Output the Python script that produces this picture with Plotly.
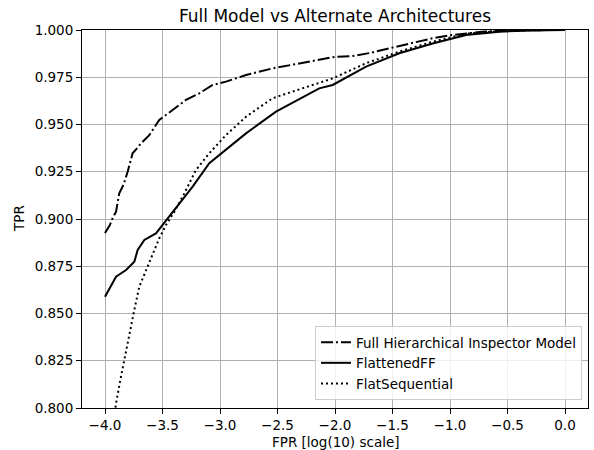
import plotly.graph_objects as go

# Full Hierarchical Inspector Model
full_x = [-4.0, -3.96, -3.934, -3.904, -3.876, -3.84, -3.803, -3.76, -3.72, -3.687, -3.615, -3.528,
          -3.412, -3.296, -3.18, -3.064, -2.948, -2.774, -2.543, -2.31, -2.137, -2.0, -1.85,
          -1.7, -1.528, -1.35, -1.154, -1.0, -0.861, -0.7, -0.5, -0.3, 0.0]
full_y = [0.8926, 0.8965, 0.9004, 0.9039, 0.9136, 0.918, 0.925, 0.9348, 0.9375, 0.940, 0.9444, 0.9524,
          0.9577, 0.963, 0.9665, 0.9709, 0.9727, 0.9762, 0.9797, 0.9824, 0.9845, 0.9858, 0.9862,
          0.9878, 0.9903, 0.9930, 0.9956, 0.9972, 0.9982, 0.9992, 0.9998, 1.0, 1.0]

# FlattenedFF
ff_x = [-4.0, -3.96, -3.904, -3.817, -3.745, -3.716, -3.658, -3.557, -3.499, -3.412, -3.325,
        -3.238, -3.093, -2.919, -2.774, -2.513, -2.31, -2.137, -2.02, -1.73, -1.441, -1.151,
        -0.861, -0.571, -0.3, 0.0]
ff_y = [0.8589, 0.8630, 0.8695, 0.873, 0.8774, 0.8836, 0.8889, 0.8924, 0.8968, 0.9039, 0.910,
        0.9171, 0.9295, 0.9383, 0.9453, 0.9568, 0.9632, 0.9691, 0.9709, 0.9806, 0.9877, 0.9929,
        0.9974, 0.9991, 0.9998, 1.0]

# FlatSequential
fs_x = [-3.92, -3.904, -3.861, -3.817, -3.774, -3.745, -3.702, -3.644, -3.586, -3.528, -3.47,
        -3.397, -3.325, -3.209, -3.093, -2.948, -2.774, -2.543, -2.31, -2.137, -2.02, -1.73,
        -1.441, -1.151, -0.861, -0.6, -0.3, 0.0]
fs_y = [0.795, 0.8025, 0.8166, 0.8307, 0.843, 0.8519, 0.8642, 0.873, 0.881, 0.8898, 0.8968,
        0.9039, 0.9118, 0.9259, 0.9348, 0.9444, 0.9541, 0.9639, 0.9686, 0.9721, 0.9744, 0.9824,
        0.9886, 0.9938, 0.998, 0.9993, 0.9999, 1.0]

x_ticks = [-4.0, -3.5, -3.0, -2.5, -2.0, -1.5, -1.0, -0.5, 0.0]
y_ticks = [0.800, 0.825, 0.850, 0.875, 0.900, 0.925, 0.950, 0.975, 1.000]

font = "DejaVu Sans"
W, H = 594, 450
L, R, T, B = 82, 588, 30, 408

fig = go.Figure()
fig.add_trace(go.Scatter(x=full_x, y=full_y, mode="lines", name="Full Hierarchical Inspector Model",
                         line=dict(color="black", width=2, dash="12px,3px,2px,3px")))
fig.add_trace(go.Scatter(x=ff_x, y=ff_y, mode="lines", name="FlattenedFF",
                         line=dict(color="black", width=2)))
fig.add_trace(go.Scatter(x=fs_x, y=fs_y, mode="lines", name="FlatSequential",
                         line=dict(color="black", width=2, dash="2px,3px")))

fig.update_layout(
    width=W, height=H,
    margin=dict(l=L, r=W - R, t=T, b=H - B, pad=0),
    paper_bgcolor="white", plot_bgcolor="white",
    font=dict(family=font, size=13.5, color="black"),
    title=dict(text="Full Model vs Alternate Architectures", x=(L + R) / 2 / W, xanchor="center",
               y=1 - 16 / H, yanchor="middle", font=dict(size=17, family=font, color="black")),
    showlegend=True,
    legend=dict(x=(582 - L) / (R - L), y=(B - 400) / (B - T), xanchor="right", yanchor="bottom",
                bgcolor="rgba(255,255,255,0.8)", bordercolor="#cccccc", borderwidth=1,
                font=dict(size=13.5, family=font), tracegroupgap=0, itemwidth=30),
    annotations=[
        dict(text="FPR [log(10) scale]", xref="paper", yref="paper", x=0.5,
             y=-(442 - B) / (B - T), xanchor="center", yanchor="middle", showarrow=False,
             font=dict(size=13.5, family=font)),
        dict(text="TPR", xref="paper", yref="paper", x=-(L - 19) / (R - L),
             y=0.5, xanchor="center", yanchor="middle", textangle=-90, showarrow=False,
             font=dict(size=13.5, family=font)),
    ],
)
fig.update_xaxes(
    range=[-4.2, 0.2], tickvals=x_ticks, ticktext=[f"{v:.1f}".replace("-", "\u2212") for v in x_ticks],
    showgrid=True, gridcolor="#b0b0b0", gridwidth=1, zeroline=False,
    showline=True, linecolor="black", linewidth=1, mirror=True,
    ticks="outside", ticklen=5, tickcolor="black", automargin=False,
)
fig.update_yaxes(
    range=[0.8, 1.0], tickvals=y_ticks, ticktext=[f"{v:.3f}" for v in y_ticks],
    showgrid=True, gridcolor="#b0b0b0", gridwidth=1, zeroline=False,
    showline=True, linecolor="black", linewidth=1, mirror=True,
    ticks="outside", ticklen=5, tickcolor="black", automargin=False,
)

fig.write_html("out.html", config={"displayModeBar": False},
               post_script="document.body.style.margin='0';document.body.style.overflow='hidden';")
